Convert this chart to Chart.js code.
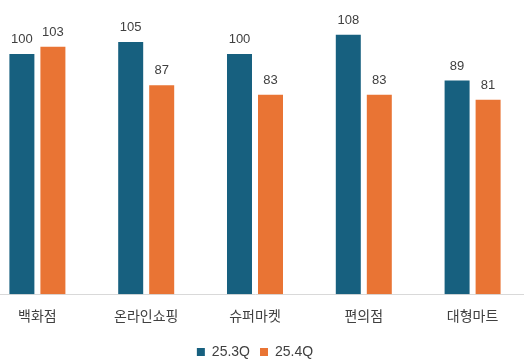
<!DOCTYPE html>
<html><head><meta charset="utf-8">
<script src="https://cdn.jsdelivr.net/npm/chart.js@4"></script>
<style>
html,body{margin:0;padding:0;background:#fff;overflow:hidden;width:524px;height:362px;}
#wrap{position:absolute;left:-17px;top:0;width:544px;height:362px;}
</style></head><body>
<div id="wrap"><canvas id="c"></canvas></div>
<script>
const categories = ['백화점','온라인쇼핑','슈퍼마켓','편의점','대형마트'];
const seriesNames = ['25.3Q','25.4Q'];
const q3 = [100,105,100,108,89];
const q4 = [103,87,83,83,81];
const colors = ['#17607f','#e97434'];
const FONT = '"Liberation Sans","Noto Sans CJK KR",sans-serif';

const labelPlugin = {
  id:'vals',
  afterDatasetsDraw(chart){
    const ctx = chart.ctx;
    ctx.save();
    ctx.font = '13px '+FONT;
    ctx.fillStyle = '#404040';
    ctx.textAlign = 'center';
    ctx.textBaseline = 'bottom';
    chart.data.datasets.forEach((ds,i)=>{
      chart.getDatasetMeta(i).data.forEach((bar,j)=>{
        ctx.fillText(String(ds.data[j]), bar.x, bar.y - 8);
      });
    });
    ctx.restore();
  }
};

new Chart(document.getElementById('c'),{
  type:'bar',
  data:{labels:categories,datasets:[
    {label:seriesNames[0],data:q3,backgroundColor:colors[0]},
    {label:seriesNames[1],data:q4,backgroundColor:colors[1]}
  ]},
  options:{
    responsive:true,maintainAspectRatio:false,animation:false,
    layout:{padding:{top:6,bottom:-7,left:0,right:0}},
    datasets:{bar:{categoryPercentage:0.57,barPercentage:0.806}},
    scales:{
      x:{grid:{display:false},border:{display:true,color:'#d9d9d9',width:1},
         ticks:{font:{size:14,family:FONT},color:'#404040',padding:7},
         afterFit(s){ s.height += 2; }},
      y:{display:false,min:0,max:120}
    },
    plugins:{
      legend:{position:'bottom',labels:{boxWidth:8,boxHeight:8,font:{size:14,family:FONT},color:'#404040',padding:10}},
      tooltip:{enabled:false}
    }
  },
  plugins:[labelPlugin]
});
</script></body></html>
